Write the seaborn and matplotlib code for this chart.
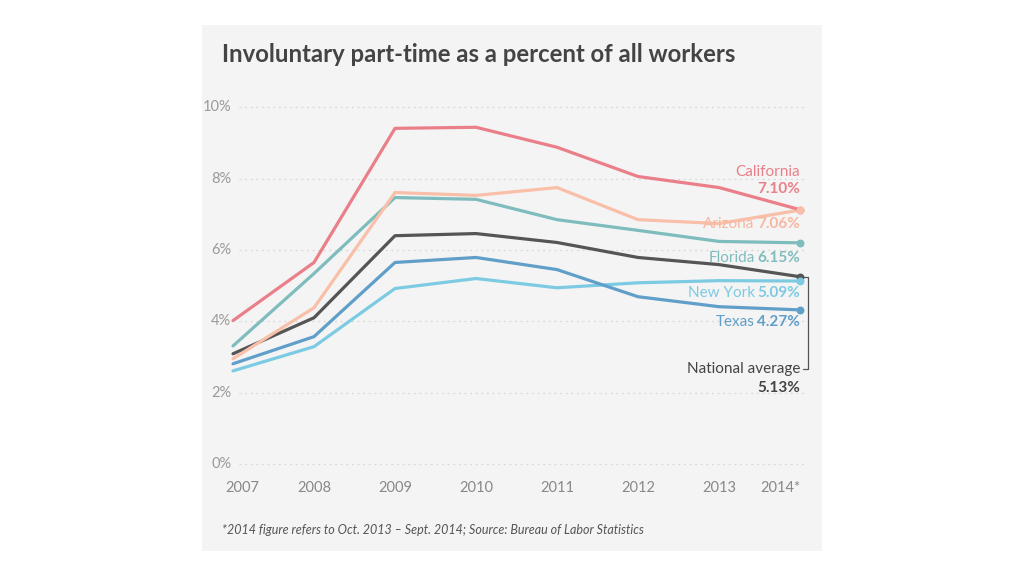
import matplotlib
matplotlib.use("Agg")
import matplotlib.pyplot as plt
import pandas as pd
import seaborn as sns

years = [2007, 2008, 2009, 2010, 2011, 2012, 2013, 2014]
year_labels = ["2007", "2008", "2009", "2010", "2011", "2012", "2013", "2014*"]

# values as drawn on the chart (percent of all workers)
california = [4.02, 5.65, 9.41, 9.44, 8.88, 8.06, 7.75, 7.13]
arizona = [2.95, 4.38, 7.61, 7.53, 7.75, 6.85, 6.74, 7.12]
florida = [3.31, 5.34, 7.47, 7.42, 6.85, 6.55, 6.24, 6.20]
national = [3.09, 4.10, 6.40, 6.46, 6.21, 5.79, 5.59, 5.25]
texas = [2.81, 3.57, 5.65, 5.79, 5.45, 4.69, 4.41, 4.32]
new_york = [2.61, 3.29, 4.92, 5.20, 4.94, 5.08, 5.14, 5.13]

# labels printed at the end of each line
end_labels = {
    "California": "7.10%",
    "Arizona": "7.06%",
    "Florida": "6.15%",
    "National average": "5.13%",
    "Texas": "4.27%",
    "New York": "5.09%",
}

series = {
    "California": california,
    "Arizona": arizona,
    "Florida": florida,
    "National average": national,
    "Texas": texas,
    "New York": new_york,
}
colors = {
    "California": "#ea7f89",
    "Arizona": "#f9bfa9",
    "Florida": "#7fbcbd",
    "National average": "#555555",
    "Texas": "#609fc9",
    "New York": "#7ccbe3",
}

rows = []
for name, vals in series.items():
    for y, v in zip(years, vals):
        rows.append({"year": y, "value": v, "state": name})
df = pd.DataFrame(rows)

sns.set_style("white")
plt.rcParams["font.family"] = ["Lato", "DejaVu Sans"]

fig = plt.figure(figsize=(10.24, 5.76), dpi=100)
fig.patch.set_facecolor("white")

# grey card behind the chart
bg = fig.add_axes([202 / 1024, 25 / 576, 620 / 1024, 526 / 576], zorder=0)
bg.set_facecolor("#f4f4f4")
bg.set_xticks([])
bg.set_yticks([])
for s in bg.spines.values():
    s.set_visible(False)

ax = fig.add_axes([233 / 1024, (576 - 464) / 576, 567 / 1024, 356.7 / 576], zorder=1)
ax.set_facecolor("none")

for y in [0, 2, 4, 6, 8, 10]:
    ax.plot([2007.08, 2014.06], [y, y], color="#d8d8d8", lw=0.9, ls=(0, (1.5, 3)),
            zorder=1, clip_on=False)

sns.lineplot(data=df, x="year", y="value", hue="state", palette=colors,
             hue_order=["New York", "Texas", "National average", "Florida", "Arizona", "California"],
             linewidth=2.3, legend=False, ax=ax, zorder=3)
for line in ax.lines:
    line.set_clip_on(False)

for name, vals in series.items():
    ax.scatter([years[-1]], [vals[-1]], s=22, color=colors[name], zorder=4, clip_on=False)

ax.set_xlim(2007, 2014)
ax.set_ylim(0, 10)
for s in ax.spines.values():
    s.set_visible(False)
ax.set_xticks([])
ax.set_yticks([])
ax.set_xlabel("")
ax.set_ylabel("")

# y tick labels
for y in [0, 2, 4, 6, 8, 10]:
    ax.text(2007 - 0.02, y, f"{y}%", ha="right", va="center", fontsize=10.5,
            color="#9a9a9a", clip_on=False)

# x tick labels
for yr, lab in zip(years, year_labels):
    ha = "right" if lab.endswith("*") else "center"
    xoff = 0.12 if yr == 2007 else 0
    ax.text(yr + xoff, -0.68, lab, ha=ha, va="center", fontsize=10.5, color="#888888",
            clip_on=False)

# end labels
lab_x = 2014.0
ax.text(lab_x, 8.19, "California", ha="right", va="center", fontsize=11,
        color=colors["California"])
ax.text(lab_x, 7.72, end_labels["California"], ha="right", va="center", fontsize=11,
        fontweight="bold", color=colors["California"])


def two_part(y, name, color):
    t = ax.text(lab_x, y, end_labels[name], ha="right", va="center", fontsize=11,
                fontweight="bold", color=color)
    fig.canvas.draw()
    bb = t.get_window_extent()
    x_left = ax.transData.inverted().transform((bb.x0, bb.y0))[0]
    ax.text(x_left - 0.03, y, name, ha="right", va="center", fontsize=11, color=color)


two_part(6.73, "Arizona", "#f8b7a0")
two_part(5.78, "Florida", colors["Florida"])
two_part(4.79, "New York", colors["New York"])
two_part(3.98, "Texas", colors["Texas"])

ax.text(lab_x, 2.66, "National average", ha="right", va="center", fontsize=11,
        color="#444444")
ax.text(lab_x, 2.13, end_labels["National average"], ha="right", va="center", fontsize=11,
        fontweight="bold", color="#444444")
ax.plot([2014.02, 2014.1, 2014.1, 2014.04], [national[-1], national[-1], 2.66, 2.66],
        color="#555555", lw=0.9, clip_on=False, zorder=2)

fig.text(222 / 1024, 1 - 54 / 576, "Involuntary part-time as a percent of all workers",
         ha="left", va="center", fontsize=17.2, fontweight="bold", color="#444444")
fig.text(222 / 1024, 1 - 530 / 576,
         "*2014 figure refers to Oct. 2013 \u2013 Sept. 2014; Source: Bureau of Labor Statistics",
         ha="left", va="center", fontsize=9, style="italic", color="#555555")

fig.savefig("out.png", dpi=100, facecolor="white")
